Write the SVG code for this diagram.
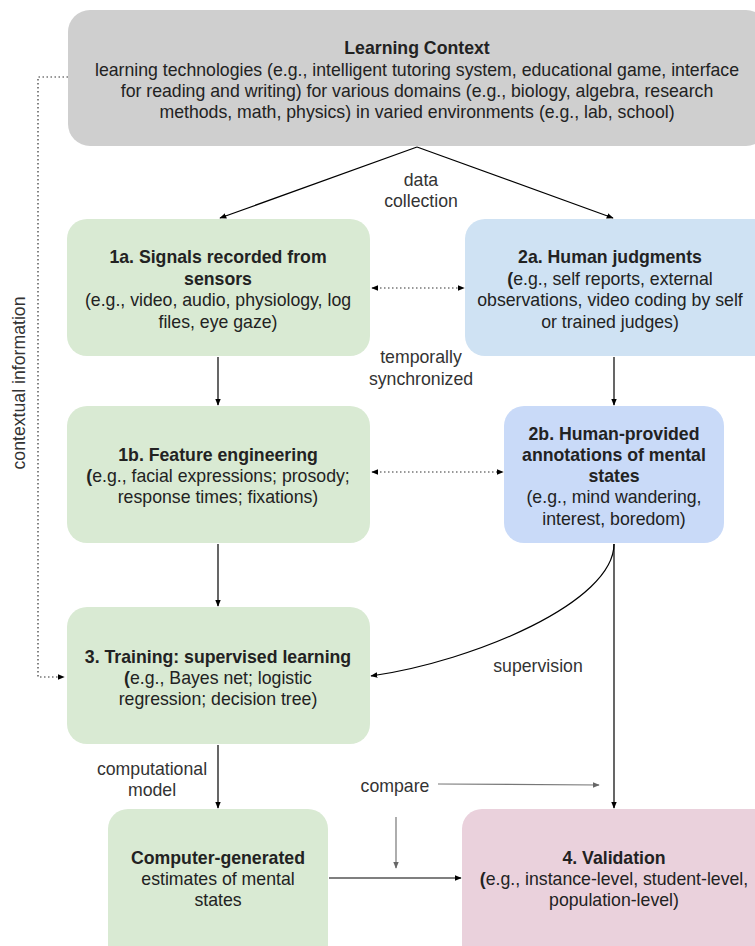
<svg xmlns="http://www.w3.org/2000/svg" width="755" height="946" viewBox="0 0 755 946">
<defs>
<marker id="ah" viewBox="0 0 10 10" refX="9" refY="5" markerWidth="7" markerHeight="7" orient="auto-start-reverse" markerUnits="userSpaceOnUse">
<path d="M0,1 L10,5 L0,9 z" fill="#000"/>
</marker>
<marker id="ahg" viewBox="0 0 10 10" refX="9" refY="5" markerWidth="7" markerHeight="7" orient="auto-start-reverse" markerUnits="userSpaceOnUse">
<path d="M0,1 L10,5 L0,9 z" fill="#666"/>
</marker>
<style>
text{font-family:"Liberation Sans",Arial,sans-serif;font-size:17.7px;fill:#222;text-anchor:middle}
.b{font-weight:bold}
.lbl{fill:#333}
.c{fill:none;stroke:#000;stroke-width:1.2}
.d{fill:none;stroke:#333;stroke-width:1.2;stroke-dasharray:1.5 2.5}
.g{fill:none;stroke:#777;stroke-width:1.2}
</style>
</defs>
<rect width="755" height="946" fill="#fff"/>

<g id="connectors">
<path class="d" d="M68 77 H38 V677 H64" marker-end="url(#ah)"/>
<path class="c" d="M417 147 L220 218" marker-end="url(#ah)"/>
<path class="c" d="M417 147 L613 218" marker-end="url(#ah)"/>
<path class="d" d="M372 288 H464" marker-start="url(#ah)" marker-end="url(#ah)"/>
<path class="d" d="M372 472 H503" marker-start="url(#ah)" marker-end="url(#ah)"/>
<path class="c" d="M218 357 V405" marker-end="url(#ah)"/>
<path class="c" d="M614 357 V405" marker-end="url(#ah)"/>
<path class="c" d="M218 544 V606" marker-end="url(#ah)"/>
<path class="c" d="M614 544 C614 602 475 661 371 676" marker-end="url(#ah)"/>
<path class="c" d="M614 544 V808" marker-end="url(#ah)"/>
<path class="c" d="M218 745 V808" marker-end="url(#ah)"/>
<path class="c" d="M329 878 H461" marker-end="url(#ah)"/>
<path class="g" d="M438 784 L599 785" marker-end="url(#ahg)"/>
<path class="g" d="M396 817 V868" marker-end="url(#ahg)"/>
<text x="421" y="186" class="lbl">data</text>
<text x="421" y="207" class="lbl">collection</text>
<text x="421" y="363" class="lbl">temporally</text>
<text x="421" y="385" class="lbl">synchronized</text>
<text x="538" y="672" class="lbl">supervision</text>
<text x="152" y="775" class="lbl">computational</text>
<text x="152" y="796" class="lbl">model</text>
<text x="395" y="792" class="lbl">compare</text>
<text x="0" y="0" class="lbl" transform="translate(25 383) rotate(-90)">contextual information</text>
</g>

<g id="context">
<rect x="68" y="10" width="700" height="136" rx="22" fill="#cfcfcf"/>
<text x="417" y="54" class="b">Learning Context</text>
<text x="417" y="76">learning technologies (e.g., intelligent tutoring system, educational game, interface</text>
<text x="417" y="97">for reading and writing) for various domains (e.g., biology, algebra, research</text>
<text x="417" y="118">methods, math, physics) in varied environments (e.g., lab, school)</text>
</g>

<g id="n1a">
<rect x="67" y="219" width="303" height="137" rx="20" fill="#d9ead3"/>
<text x="218" y="263" class="b">1a. Signals recorded from</text>
<text x="218" y="285" class="b">sensors</text>
<text x="218" y="306">(e.g., video, audio, physiology, log</text>
<text x="218" y="328">files, eye gaze)</text>
</g>

<g id="n2a">
<rect x="465" y="219" width="310" height="137" rx="20" fill="#cfe2f3"/>
<text x="610" y="263" class="b">2a. Human judgments</text>
<text x="610" y="285"><tspan class="b">(</tspan>e.g., self reports, external</text>
<text x="610" y="306">observations, video coding by self</text>
<text x="610" y="328">or trained judges)</text>
</g>

<g id="n1b">
<rect x="67" y="406" width="303" height="137" rx="20" fill="#d9ead3"/>
<text x="218" y="461" class="b">1b. Feature engineering</text>
<text x="218" y="482"><tspan class="b">(</tspan>e.g., facial expressions; prosody;</text>
<text x="218" y="503">response times; fixations)</text>
</g>

<g id="n2b">
<rect x="504" y="406" width="220" height="137" rx="20" fill="#c9daf8"/>
<text x="614" y="440" class="b">2b. Human-provided</text>
<text x="614" y="461" class="b">annotations of mental</text>
<text x="614" y="482" class="b">states</text>
<text x="614" y="503">(e.g., mind wandering,</text>
<text x="614" y="525">interest, boredom)</text>
</g>

<g id="n3">
<rect x="67" y="607" width="303" height="137" rx="20" fill="#d9ead3"/>
<text x="218" y="663" class="b">3. Training: supervised learning</text>
<text x="218" y="684"><tspan class="b">(</tspan>e.g., Bayes net; logistic</text>
<text x="218" y="705">regression; decision tree)</text>
</g>

<g id="nest">
<rect x="108" y="809" width="220" height="160" rx="20" fill="#d9ead3"/>
<text x="218" y="864" class="b">Computer-generated</text>
<text x="218" y="885">estimates of mental</text>
<text x="218" y="906">states</text>
</g>

<g id="n4">
<rect x="462" y="809" width="320" height="160" rx="20" fill="#ead1dc"/>
<text x="614" y="864" class="b">4. Validation</text>
<text x="614" y="885"><tspan class="b">(</tspan>e.g., instance-level, student-level,</text>
<text x="614" y="906">population-level)</text>
</g>
</svg>
